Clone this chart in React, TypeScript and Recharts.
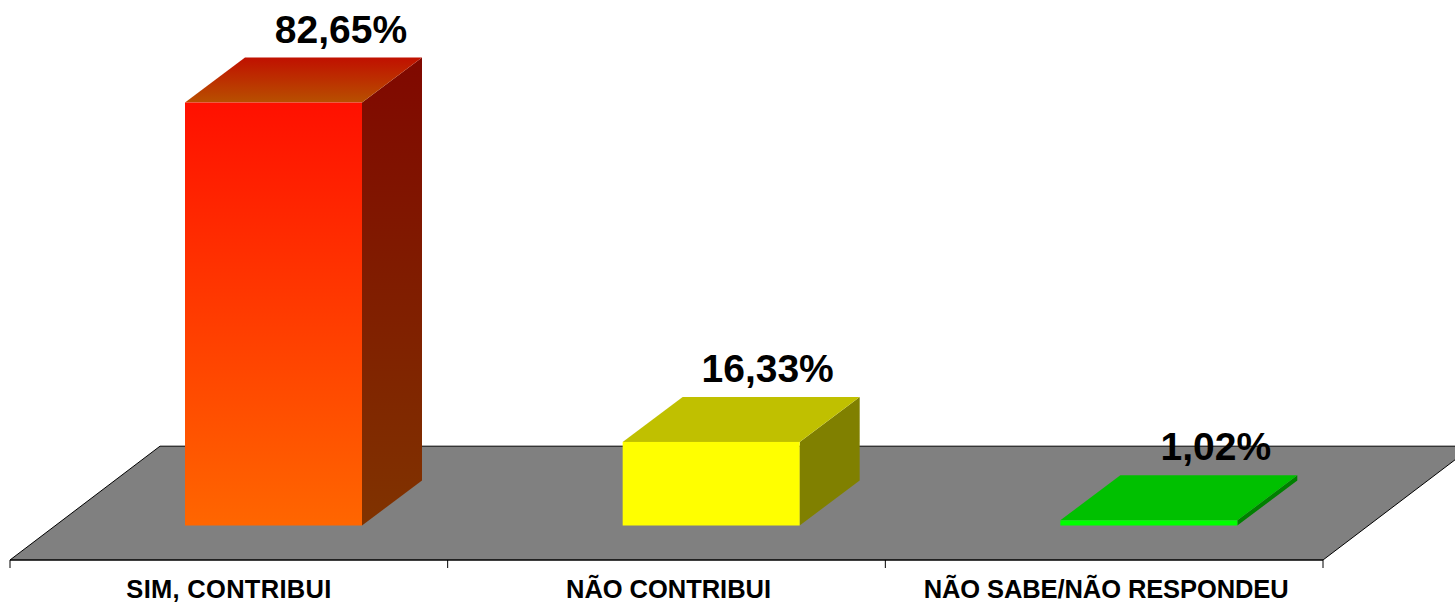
import { BarChart, Bar, XAxis, YAxis, ReferenceArea, LabelList } from "recharts";

const categories = ["SIM, CONTRIBUI", "NÃO CONTRIBUI", "NÃO SABE/NÃO RESPONDEU"];
const percentages = [82.65, 16.33, 1.02];

// [top, bottom] colour of each face
const frontColors = [["#ff1000", "#ff6600"], ["#ffff00", "#ffff00"], ["#00ff00", "#00ff00"]];
const topColors = [["#c01000", "#b85000"], ["#c0c000", "#c0c000"], ["#00c000", "#00c000"]];
const sideColors = [["#800800", "#803300"], ["#808000", "#808000"], ["#008000", "#008000"]];

const labelNudge = [67.5, 56.5, 67];
const tickNudge = [0, 2, 2];
const tickWidths = [205, 205, 365];

const WIDTH = 1455;
const HEIGHT = 603;
const LEFT = 10;
const RIGHT = 132;
const AXIS_H = 43;
const BAND = (WIDTH - LEFT - RIGHT) / categories.length;
const BAR_SHIFT = 45;
const DEPTH_X = 60;
const DEPTH_Y = 45;
const FONT = "'Liberation Sans', Arial, sans-serif";

const data = categories.map((name, i) => ({ name, value: percentages[i] }));

function Floor({ x, y, width, height }: any) {
  const pts = [
    [x, y + height],
    [x + 150, y],
    [x + width + 150, y],
    [x + width, y + height],
  ];
  return <polygon points={pts.map((p) => p.join(",")).join(" ")} fill="#808080" stroke="#000" strokeWidth={1} />;
}

function Bar3D({ x, y, width, height, index }: any) {
  const l = x + BAR_SHIFT;
  const r = l + width;
  const b = y + height;
  const top = `${l},${y} ${l + DEPTH_X},${y - DEPTH_Y} ${r + DEPTH_X},${y - DEPTH_Y} ${r},${y}`;
  const side = `${r},${y} ${r + DEPTH_X},${y - DEPTH_Y} ${r + DEPTH_X},${b - DEPTH_Y} ${r},${b}`;
  return (
    <g>
      <polygon points={side} fill={`url(#side${index})`} />
      <polygon points={top} fill={`url(#top${index})`} />
      <rect x={l} y={y} width={width} height={height} fill={`url(#front${index})`} />
    </g>
  );
}

function ValueLabel({ x, y, width, value, index }: any) {
  return (
    <text
      x={x + width / 2 + BAR_SHIFT + labelNudge[index]}
      y={y - 60}
      textAnchor="middle"
      fontFamily={FONT}
      fontSize={39}
      fontWeight="bold"
      fill="#000"
    >
      {`${Number(value).toFixed(2).replace(".", ",")}%`}
    </text>
  );
}

function CategoryTick({ x, payload, index }: any) {
  const axisY = HEIGHT - AXIS_H;
  return (
    <g>
      <line x1={x - BAND / 2} x2={x - BAND / 2} y1={axisY} y2={axisY + 8} stroke="#000" />
      {index === categories.length - 1 && (
        <line x1={x + BAND / 2} x2={x + BAND / 2} y1={axisY} y2={axisY + 8} stroke="#000" />
      )}
      <text
        x={x + tickNudge[index]}
        y={axisY + 38}
        textAnchor="middle"
        textLength={tickWidths[index]}
        lengthAdjust="spacing"
        fontFamily={FONT}
        fontSize={25.5}
        fontWeight="bold"
        fill="#000"
      >
        {payload.value}
      </text>
    </g>
  );
}

function gradient(id: string, colors: string[]) {
  return (
    <linearGradient key={id} id={id} x1="0" y1="0" x2="0" y2="1">
      <stop offset="0%" stopColor={colors[0]} />
      <stop offset="100%" stopColor={colors[1]} />
    </linearGradient>
  );
}

export default function App() {
  return (
    <div style={{ position: "absolute", left: 0, top: 0 }}>
      <BarChart
        width={WIDTH}
        height={HEIGHT}
        data={data}
        margin={{ top: 0, right: RIGHT, bottom: 0, left: LEFT }}
        barSize={177}
      >
        <defs>
          {frontColors.map((c, i) => gradient(`front${i}`, c))}
          {topColors.map((c, i) => gradient(`top${i}`, c))}
          {sideColors.map((c, i) => gradient(`side${i}`, c))}
        </defs>
        <YAxis hide domain={[-6.74, 102.68]} />
        <XAxis
          dataKey="name"
          height={AXIS_H}
          interval={0}
          axisLine={{ stroke: "#000", strokeWidth: 1 }}
          tickLine={false}
          tick={<CategoryTick />}
        />
        <ReferenceArea y1={-6.74} y2={15.5} ifOverflow="visible" shape={<Floor />} />
        <Bar dataKey="value" isAnimationActive={false} shape={<Bar3D />}>
          <LabelList dataKey="value" content={<ValueLabel />} />
        </Bar>
      </BarChart>
    </div>
  );
}
